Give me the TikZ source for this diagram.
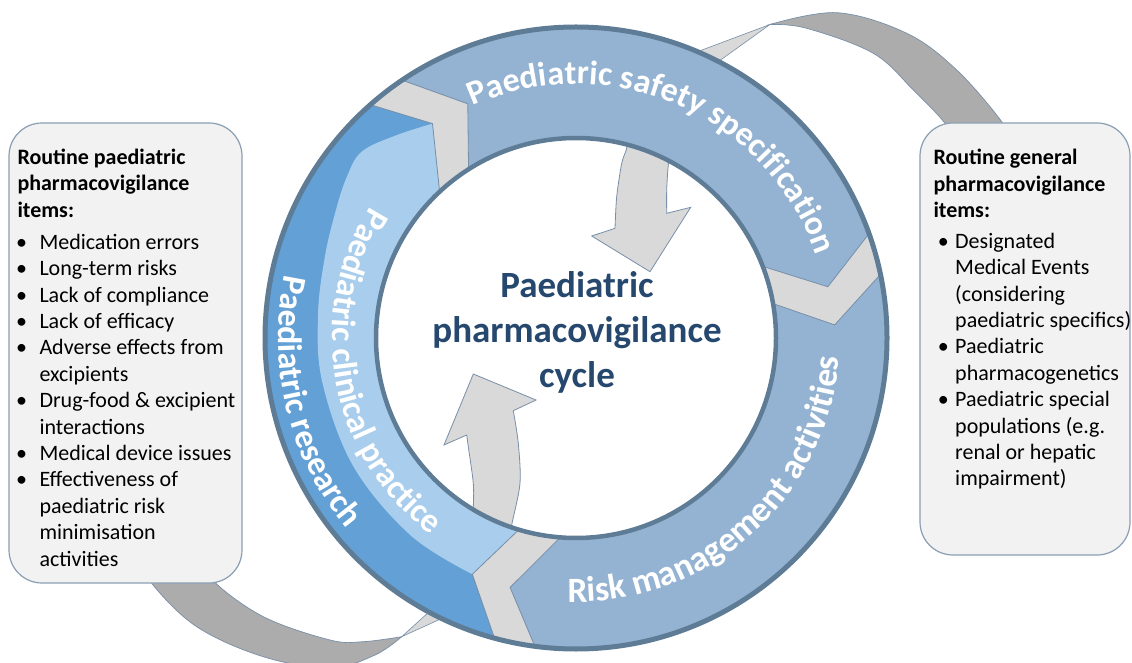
\documentclass[tikz,border=0pt]{standalone}
\usepackage{fontspec}
\setmainfont{Carlito}
\usetikzlibrary{decorations.text,calc}
\definecolor{segblue}{RGB}{148,179,210}
\definecolor{resblue}{RGB}{98,160,213}
\definecolor{clinblue}{RGB}{169,205,236}
\definecolor{gapgrey}{RGB}{217,217,217}
\definecolor{ringedge}{RGB}{95,124,150}
\definecolor{thinedge}{RGB}{120,143,168}
\definecolor{cresdark}{RGB}{172,172,172}
\definecolor{boxfill}{RGB}{242,242,242}
\definecolor{boxedge}{RGB}{138,158,180}
\definecolor{centertext}{RGB}{38,72,110}
\newcommand\ringfont{\fontsize{34}{40}\selectfont\bfseries}
\newcommand\ringfontb{\fontsize{35.5}{40}\selectfont\bfseries}
\newcommand\boxfont{\fontsize{22}{26}\selectfont}
\tikzset{
  segstyle/.style={draw=thinedge, line width=0.8pt},
  grarrow/.style={fill=gapgrey, draw=thinedge, line width=0.8pt},
  crescent/.style={fill=cresdark, draw=thinedge, line width=0.7pt},
  cresslight/.style={fill=gapgrey, draw=thinedge, line width=0.6pt},
  boxstyle/.style={draw=boxedge, fill=boxfill, rounded corners=33pt, line width=1.2pt, inner sep=0pt},
  boxtxt/.style={anchor=base west, inner sep=0pt, font=\boxfont},
  boxhead/.style={anchor=base west, inner sep=0pt, font=\boxfont\bfseries},
  bul/.style={anchor=base, inner sep=0pt, font=\boxfont},
  centerlbl/.style={anchor=base, inner sep=0pt, font=\fontsize{37}{44}\selectfont\bfseries, text=centertext},
  ringtext/.style={decorate, decoration={text along path, text align=center, text color=white, text={#1}}}
}
\begin{document}
\begin{tikzpicture}[x=1pt,y=1pt]
\useasboundingbox (0,0) rectangle (1132,662);
\clip (0,0) rectangle (1132,662);
\fill[white] (0,0) rectangle (1132,662);

% ---- grey crescents
\path[crescent] plot[smooth, tension=0.6] coordinates {(770,637.5) (837,649.3) (906.7,628.7) (956.7,592) (1001.7,540.3) (1008,522)}
  -- plot[smooth, tension=0.6] coordinates {(951,522) (945,538.7) (913.3,572) (873.3,608.7) (806.7,633.7) (770,637.5)} -- cycle;
\path[cresslight] (770,637.5) -- (694,609) -- (715,598) -- cycle;

\path[crescent] plot[smooth, tension=0.6] coordinates {(148,97) (151.7,78.7) (196.7,35.3) (263.3,5.3) (330,-6) (375,7) (401.7,25.3)}
  -- plot[smooth, tension=0.6] coordinates {(401.7,25.3) (363.3,20.3) (330,22) (263.3,45.3) (213.3,81.3) (215,97)} -- cycle;
\path[cresslight] (401.7,25.3) -- (445,45) -- (430,51) -- cycle;

% ---- inner arrows
\path[grarrow] plot[smooth] coordinates {(628,527) (626.7,513.7) (621.7,498.7) (616.7,465.3) (615,433.7)}
  -- (591.7,426) -- (650,390.3) -- (690.7,454.7)
  -- plot[smooth] coordinates {(666.7,448.7) (666.7,472) (668.3,497) (672,522)} -- cycle;
\path[grarrow] (473.3,288) -- (536,262)
  -- plot[smooth] coordinates {(513.3,251.3) (518.3,218.7) (520,178.7) (511.7,137) (509,120)}
  -- plot[smooth] coordinates {(472,140) (473.3,155.3) (473.3,178.7) (468.3,215.3) (466.7,227)}
  -- (444,217) -- cycle;

% ---- ring
\begin{scope}[shift={(576,324)}]
\fill[gapgrey, even odd rule] (0,0) circle[radius=311] (0,0) circle[radius=200];
% top segment
\path[segstyle, fill=segblue] (124:311) arc[start angle=124, end angle=19.6, radius=311]
  -- (11.5:257) -- (21:200) arc[start angle=21, end angle=122.5, radius=200] -- (114.8:258) -- cycle;
% right segment
\path[segstyle, fill=segblue] (11.8:311) arc[start angle=11.8, end angle=-97.6, radius=311]
  -- (-104.8:258) -- (-94.5:200) arc[start angle=-94.5, end angle=9.9, radius=200] -- (2.9:259) -- cycle;
% left segment
\fill[resblue] (254.8:311) arc[start angle=254.8, end angle=131.4, radius=311]
  -- (123.8:258) -- (133:200) arc[start angle=133, end angle=253.4, radius=200] -- (246.3:258) -- cycle;
\fill[clinblue] plot[smooth, tension=0.6] coordinates {(246.3:258) (230:257.5) (210:257) (190:257.5) (175:259) (162:264) (152:272) (145:280) (139:284) (131.6:271) (123.8:258)}
  -- (133:200) arc[start angle=133, end angle=253.4, radius=200] -- cycle;
\path[segstyle] (254.8:311) arc[start angle=254.8, end angle=131.4, radius=311]
  -- (123.8:258) -- (133:200) arc[start angle=133, end angle=253.4, radius=200] -- (246.3:258) -- cycle;
% borders
\draw[ringedge, line width=5pt] (0,0) circle[radius=311];
\draw[ringedge, line width=4.5pt] (0,0) circle[radius=200];
% ring texts
\path[ringtext={|\ringfont|Paediatric safety specification}] (128:254) arc[start angle=128, end angle=5, radius=254];
\path[ringtext={|\ringfontb|Risk management activities}] (-100:264) arc[start angle=-100, end angle=4, radius=264];
\path[ringtext={|\ringfont|Paediatric research}] (160:298) arc[start angle=160, end angle=227.6, radius=298];
\path[ringtext={|\ringfont|Paediatric clinical practice}] (140:244) arc[start angle=140, end angle=241.2, radius=244];
\end{scope}

% ---- centre text
\node[centerlbl] (c1) at (577,364) {Paediatric};
\node[centerlbl] (c2) at (577,319) {pharmacovigilance};
\node[centerlbl] (c3) at (577,274) {cycle};

% ---- boxes
\node[boxstyle, minimum width=233pt, minimum height=460pt] (lbox) at (125.5,309) {};
\node[boxstyle, minimum width=210pt, minimum height=432pt] (rbox) at (1025,323) {};

\node[boxhead] (lh1) at (17.3,497.5) {Routine paediatric};
\node[boxhead] (lh2) at (17.3,471) {pharmacovigilance};
\node[boxhead] (lh3) at (17.3,444.5) {items:};
\foreach \t [count=\k] in {Medication errors, Long-term risks, Lack of compliance, Lack of efficacy,
  Adverse effects from, excipients, Drug-food \& excipient, interactions, Medical device issues,
  Effectiveness of, paediatric risk, minimisation, activities}
  \node[boxtxt] (li\k) at (39.3,{662-249.3-26.4*(\k-1)}) {\t};
\foreach \k in {1,2,3,4,5,7,9,10}
  \node[bul] (lb\k) at (21.7,{662-249.3-26.4*(\k-1)}) {\textbullet};

\node[boxhead] (rh1) at (933.3,497) {Routine general};
\node[boxhead] (rh2) at (933.3,470.5) {pharmacovigilance};
\node[boxhead] (rh3) at (933.3,444) {items:};
\foreach \t [count=\k] in {Designated, Medical Events, {(considering}, {paediatric specifics)}, Paediatric,
  pharmacogenetics, Paediatric special, {populations (e.g.}, renal or hepatic, {impairment)}}
  \node[boxtxt] (ri\k) at (955,{662-248.3-26.4*(\k-1)}) {\t};
\foreach \k in {1,5,7}
  \node[bul] (rb\k) at (943.3,{662-248.3-26.4*(\k-1)}) {\textbullet};
\end{tikzpicture}
\end{document}
